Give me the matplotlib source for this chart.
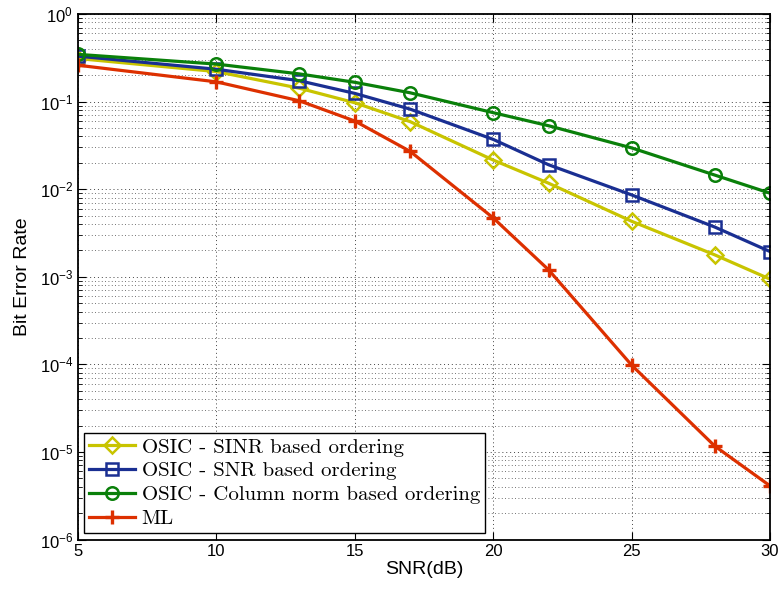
import matplotlib
matplotlib.use("Agg")
import matplotlib.pyplot as plt
from matplotlib.ticker import LogLocator, NullFormatter, FixedLocator

snr = [5, 10, 13, 15, 17, 20, 22, 25, 28, 30]
ber_sinr = [0.31, 0.22, 0.142, 0.097, 0.059, 0.0215, 0.0117, 0.0043, 0.00178, 0.00094]
ber_snr = [0.33, 0.234, 0.173, 0.124, 0.082, 0.037, 0.019, 0.0086, 0.0037, 0.00194]
ber_colnorm = [0.346, 0.268, 0.207, 0.166, 0.126, 0.0747, 0.053, 0.0296, 0.0145, 0.0090]
ber_ml = [0.26, 0.168, 0.102, 0.060, 0.027, 0.0047, 0.0012, 9.8e-5, 1.17e-5, 4.1e-6]
labels = ["OSIC - SINR based ordering", "OSIC - SNR based ordering",
          "OSIC - Column norm based ordering", "ML"]
xticks = [5, 10, 15, 20, 25, 30]

plt.rcParams['font.family'] = ['Liberation Sans', 'DejaVu Sans']
plt.rcParams['mathtext.fontset'] = 'custom'
plt.rcParams['mathtext.rm'] = 'Liberation Sans'
plt.rcParams['mathtext.it'] = 'Liberation Sans'

fig = plt.figure(figsize=(7.81, 5.91), dpi=100)
ax = fig.add_axes([78/781, 1-539.5/591, (770-78)/781, (539.5-14)/591])

lw = 2.3
ms = 9
mew = 1.8
ax.plot(snr, ber_sinr, color='#c8c400', marker='D', ms=ms-1, mfc='none', mew=mew, lw=lw, label=labels[0])
ax.plot(snr, ber_snr, color='#1a2f92', marker='s', ms=ms-1, mfc='none', mew=mew, lw=lw, label=labels[1])
ax.plot(snr, ber_colnorm, color='#0a800a', marker='o', ms=ms, mfc='none', mew=mew, lw=lw, label=labels[2])
ax.plot(snr, ber_ml, color='#dd3000', marker='+', ms=ms+1, mew=mew+0.6, lw=lw, label=labels[3])

ax.set_yscale('log')
ax.set_xlim(5, 30)
ax.set_ylim(1e-6, 1)
ax.xaxis.set_major_locator(FixedLocator(xticks))
ax.yaxis.set_major_locator(LogLocator(base=10, numticks=10))
ax.yaxis.set_minor_locator(LogLocator(base=10, subs=range(2, 10), numticks=100))
ax.yaxis.set_minor_formatter(NullFormatter())

ax.grid(True, which='major', linestyle=(0, (1, 3)), color='#444444', lw=0.7)
ax.grid(True, which='minor', axis='y', linestyle=(0, (1, 3)), color='#444444', lw=0.6)
ax.tick_params(which='both', direction='in', top=True, right=True, labelsize=12)
ax.tick_params(which='major', length=6, width=0.8)
ax.tick_params(which='minor', length=3, width=0.6)
for s in ax.spines.values():
    s.set_linewidth(1.3)

ax.set_xlabel('SNR(dB)', fontsize=14, labelpad=1)
ax.set_ylabel('Bit Error Rate', fontsize=14, labelpad=6)

leg = ax.legend(loc='lower left', prop={'family': 'cmr10', 'size': 15},
                fancybox=False, framealpha=1, edgecolor='black',
                handlelength=2.2, handletextpad=0.3, borderpad=0.25,
                labelspacing=0.25, borderaxespad=0.3)
leg.get_frame().set_linewidth(1.0)

fig.savefig('out.png', dpi=100)
